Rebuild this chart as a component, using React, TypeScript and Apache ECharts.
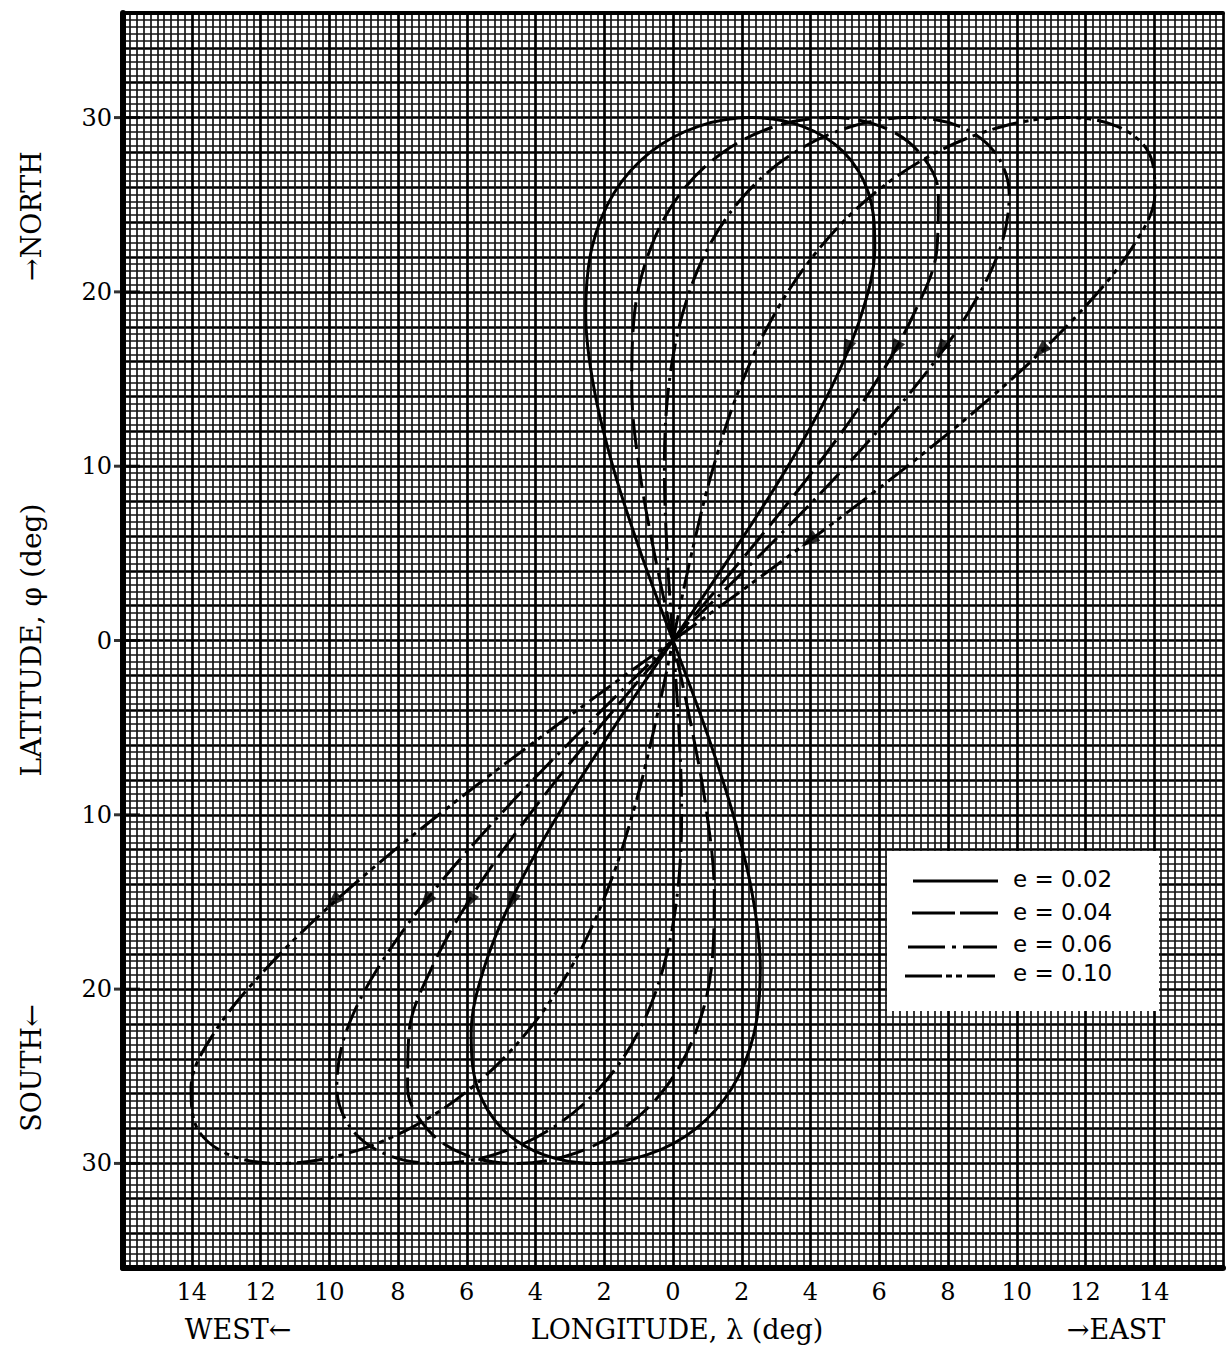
import React, { useEffect, useRef } from "react";
import * as echarts from "echarts";

// Latitude samples (deg) shared by every ground track: northern lobe, then southern lobe
const LAT_NORTH = [0, 4.98, 9.85, 14.48, 18.75, 22.52, 25.66, 28.03, 29.5, 30, 29.5, 28.03, 25.66, 22.52, 18.75, 14.48, 9.85, 4.98, 0];
const LAT_SOUTH = [-4.98, -9.85, -14.48, -18.75, -22.52, -25.66, -28.03, -29.5, -30, -29.5, -28.03, -25.66, -22.52, -18.75, -14.48, -9.85, -4.98, 0];

// Longitude (deg, east positive) of each track at the latitudes above
const LON_002_NORTH = [0, -0.93, -1.73, -2.3, -2.54, -2.36, -1.72, -0.65, 0.74, 2.29, 3.77, 4.96, 5.69, 5.87, 5.49, 4.6, 3.3, 1.72, 0];
const LON_002_SOUTH = [-1.72, -3.3, -4.6, -5.49, -5.87, -5.69, -4.96, -3.77, -2.29, -0.74, 0.65, 1.72, 2.36, 2.54, 2.3, 1.73, 0.93, 0];
const LON_004_NORTH = [0, -0.54, -0.98, -1.2, -1.12, -0.65, 0.22, 1.47, 2.98, 4.58, 6.05, 7.15, 7.72, 7.68, 7.01, 5.79, 4.12, 2.14, 0];
const LON_004_SOUTH = [-2.14, -4.12, -5.79, -7.01, -7.68, -7.72, -7.15, -6.05, -4.58, -2.98, -1.47, -0.22, 0.65, 1.12, 1.2, 0.98, 0.54, 0];
const LON_006_NORTH = [0, -0.17, -0.25, -0.13, 0.28, 1.02, 2.13, 3.56, 5.21, 6.87, 8.33, 9.35, 9.78, 9.52, 8.57, 7.01, 4.96, 2.57, 0];
const LON_006_SOUTH = [-2.57, -4.96, -7.01, -8.57, -9.52, -9.78, -9.35, -8.33, -6.87, -5.21, -3.56, -2.13, -1.02, -0.28, 0.13, 0.25, 0.17, 0];
const LON_010_NORTH = [0, 0.54, 1.16, 1.94, 2.96, 4.27, 5.86, 7.69, 9.61, 11.44, 12.92, 13.83, 14.02, 13.35, 11.8, 9.56, 6.72, 3.46, 0];
const LON_010_SOUTH = [-3.46, -6.72, -9.56, -11.8, -13.35, -14.02, -13.83, -12.92, -11.44, -9.61, -7.69, -5.86, -4.27, -2.96, -1.94, -1.16, -0.54, 0];

// Direction-of-motion arrowheads on each track [lon, lat]
const ARROWS_002 = [[5.05, 16.7], [-4.7, -15.0]];
const ARROWS_004 = [[6.45, 16.7], [-5.94, -15.0]];
const ARROWS_006 = [[7.78, 16.7], [-7.2, -15.0]];
const ARROWS_010 = [[10.68, 16.6], [3.95, 5.7], [-9.9, -15.0]];

const ECC_LABELS = ["e = 0.02", "e = 0.04", "e = 0.06", "e = 0.10"];

// Labelled latitudes (marked with a short tick inside the frame)
const LAT_LABELS = [-30, -20, -10, 0, 10, 20, 30];

const X_MIN = -16;
const X_MAX = 16;
const Y_MIN = -36;
const Y_MAX = 36;
const GRID = { left: 123, top: 13, width: 1108, height: 1255 };
const PX_X = GRID.width / (X_MAX - X_MIN);
const PX_Y = GRID.height / (Y_MAX - Y_MIN);

const DASHES: any[] = ["solid", [30, 9], [28, 7, 3, 7], [26, 6, 5, 5, 5, 6]];

const SERIF = "DejaVu Serif";
const SANS = "DejaVu Sans";

function trackPoints(north: number[], south: number[]) {
  const pts: number[][] = north.map((lon, i) => [lon, LAT_NORTH[i]]);
  south.forEach((lon, i) => pts.push([lon, LAT_SOUTH[i]]));
  return pts;
}

// Rotation (deg, counter-clockwise) of a triangle so it points along the track
function arrowRotation(pts: number[][], p: number[]) {
  let best = Infinity;
  let dir = [1, 0];
  const px = p[0] * PX_X;
  const py = p[1] * PX_Y;
  for (let i = 0; i < pts.length - 1; i++) {
    const ax = pts[i][0] * PX_X;
    const ay = pts[i][1] * PX_Y;
    const vx = pts[i + 1][0] * PX_X - ax;
    const vy = pts[i + 1][1] * PX_Y - ay;
    const len2 = vx * vx + vy * vy || 1;
    let t = ((px - ax) * vx + (py - ay) * vy) / len2;
    t = Math.max(0, Math.min(1, t));
    const dx = ax + t * vx - px;
    const dy = ay + t * vy - py;
    const d = dx * dx + dy * dy;
    if (d < best) {
      best = d;
      dir = [vx, vy];
    }
  }
  return (Math.atan2(dir[1], dir[0]) * 180) / Math.PI - 90;
}

const TRACKS = [
  { name: ECC_LABELS[0], pts: trackPoints(LON_002_NORTH, LON_002_SOUTH), arrows: ARROWS_002, dash: DASHES[0] },
  { name: ECC_LABELS[1], pts: trackPoints(LON_004_NORTH, LON_004_SOUTH), arrows: ARROWS_004, dash: DASHES[1] },
  { name: ECC_LABELS[2], pts: trackPoints(LON_006_NORTH, LON_006_SOUTH), arrows: ARROWS_006, dash: DASHES[2] },
  { name: ECC_LABELS[3], pts: trackPoints(LON_010_NORTH, LON_010_SOUTH), arrows: ARROWS_010, dash: DASHES[3] },
];

function textEl(text: string, x: number, y: number, size: number, family: string, rotation = 0, align = "center") {
  return {
    type: "text",
    x,
    y,
    rotation,
    z: 20,
    style: {
      text,
      fontFamily: family,
      fontSize: size,
      fill: "#000",
      textAlign: align,
      textVerticalAlign: "middle",
      align,
      verticalAlign: "middle",
    },
  };
}

function seg(x1: number, x2: number, y: number) {
  return {
    type: "line",
    z: 20,
    shape: { x1, y1: y, x2, y2: y },
    style: { stroke: "#000", lineWidth: 3 },
  };
}

function buildOption() {
  const fine = { color: "#151515", width: 1.7 };
  const heavy = { color: "#000", width: 2.7 };

  const lineSeries = TRACKS.map((t) => ({
    type: "line",
    name: t.name,
    data: t.pts,
    showSymbol: false,
    smooth: 0.35,
    lineStyle: { color: "#000", width: 3, type: t.dash, cap: "butt" },
    z: 5,
  }));

  const arrowSeries = TRACKS.map((t) => ({
    type: "scatter",
    name: t.name + " arrows",
    symbol: "triangle",
    symbolSize: [13, 19],
    itemStyle: { color: "#000" },
    z: 6,
    data: t.arrows.map((p) => ({ value: p, symbolRotate: arrowRotation(t.pts, p) })),
  }));

  const tickSeries = {
    type: "scatter",
    name: "lat ticks",
    symbol: "rect",
    symbolSize: [26, 3],
    symbolOffset: [4, 0],
    itemStyle: { color: "#000" },
    z: 4,
    data: LAT_LABELS.map((v) => [X_MIN, v]),
  };

  const legendX = 887;
  const legendY = 851;

  return {
    animation: false,
    backgroundColor: "#fff",
    grid: { ...GRID, containLabel: false },
    xAxis: [
      {
        type: "value",
        min: X_MIN,
        max: X_MAX,
        interval: 2,
        position: "bottom",
        axisLine: { show: true, onZero: false, lineStyle: { color: "#000", width: 6 } },
        axisTick: { show: false },
        axisLabel: {
          formatter: (v: number) => (Math.abs(v) >= 16 ? "" : String(Math.abs(v))),
          fontFamily: SERIF,
          fontSize: 24,
          color: "#000",
          margin: 12,
        },
        splitLine: { show: true, lineStyle: heavy },
        minorTick: { show: false, splitNumber: 10 },
        minorSplitLine: { show: true, lineStyle: fine },
      },
      {
        type: "value",
        min: X_MIN,
        max: X_MAX,
        position: "top",
        axisLine: { show: true, onZero: false, lineStyle: { color: "#000", width: 4 } },
        axisTick: { show: false },
        axisLabel: { show: false },
        splitLine: { show: false },
      },
    ],
    yAxis: {
      type: "value",
      min: Y_MIN,
      max: Y_MAX,
      interval: 2,
      position: "left",
      axisLine: { show: true, onZero: false, lineStyle: { color: "#000", width: 6 } },
      axisTick: { show: false },
      axisLabel: {
        formatter: (v: number) => (v % 10 === 0 ? String(Math.abs(v)) : ""),
        fontFamily: SERIF,
        fontSize: 24,
        color: "#000",
        margin: 11,
      },
      splitLine: { show: true, lineStyle: heavy },
      minorTick: { show: false, splitNumber: 5 },
      minorSplitLine: { show: true, lineStyle: fine },
    },
    series: [...lineSeries, ...arrowSeries, tickSeries],
    graphic: [
      textEl("LONGITUDE, λ (deg)", 677, 1329, 27, SERIF),
      textEl("WEST←", 238, 1329, 27, SERIF),
      textEl("→EAST", 1116, 1329, 27, SERIF),
      textEl("LATITUDE, φ (deg)", 31, 640, 28, SERIF, Math.PI / 2),
      textEl("→NORTH", 31, 216, 27, SERIF, Math.PI / 2),
      textEl("SOUTH←", 31, 1068, 27, SERIF, Math.PI / 2),
      {
        type: "rect",
        z: 15,
        shape: { x: legendX, y: legendY, width: 272, height: 160 },
        style: { fill: "#fff" },
      },
      // e = 0.02 : solid
      seg(913, 998, 881),
      // e = 0.04 : long dashes
      seg(912, 955, 913),
      seg(960, 998, 913),
      // e = 0.06 : dash, dot, dash
      seg(908, 945, 947),
      seg(952, 956, 947),
      seg(963, 997, 947),
      // e = 0.10 : dash, two short dashes, dash
      seg(905, 942, 976),
      seg(946, 952, 976),
      seg(956, 962, 976),
      seg(967, 995, 976),
      textEl(ECC_LABELS[0], 1013, 879, 23, SANS, 0, "left"),
      textEl(ECC_LABELS[1], 1013, 912, 23, SANS, 0, "left"),
      textEl(ECC_LABELS[2], 1013, 944, 23, SANS, 0, "left"),
      textEl(ECC_LABELS[3], 1013, 973, 23, SANS, 0, "left"),
    ],
  };
}

export default function App() {
  const ref = useRef<HTMLDivElement>(null);
  useEffect(() => {
    if (!ref.current) return;
    const chart = echarts.init(ref.current, null, { renderer: "svg" });
    chart.setOption(buildOption() as any);
    return () => chart.dispose();
  }, []);
  return (
    <div
      ref={ref}
      style={{ position: "absolute", left: 0, top: 0, width: 1226, height: 1347, background: "#fff" }}
    />
  );
}
